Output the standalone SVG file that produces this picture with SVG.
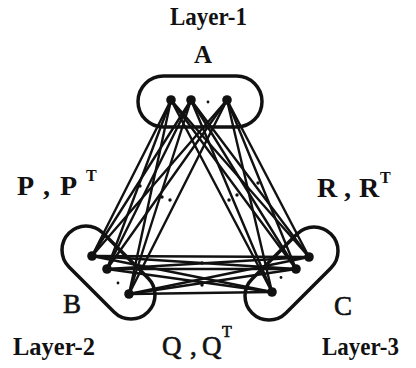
<svg xmlns="http://www.w3.org/2000/svg" width="416" height="368" viewBox="0 0 416 368">
<style>
.lbl{font-family:"Liberation Serif","Times New Roman",serif;font-weight:bold;fill:#111}
.nl{font-family:"Liberation Serif","Times New Roman",serif;fill:#111;stroke:#111;stroke-width:0.6}
.box{fill:none;stroke:#111;stroke-width:3.5}
.dot{fill:#111}
.sd{fill:#111}
#edges line{stroke:#111;stroke-width:2.4;stroke-linecap:round}
</style>
<rect width="416" height="368" fill="#fff"/>
<g id="edges">
<line x1="171" y1="100" x2="92" y2="256"/><line x1="171" y1="100" x2="107" y2="269"/><line x1="171" y1="100" x2="129" y2="294"/>
<line x1="191" y1="100" x2="92" y2="256"/><line x1="191" y1="100" x2="107" y2="269"/><line x1="191" y1="100" x2="129" y2="294"/>
<line x1="227" y1="100" x2="92" y2="256"/><line x1="227" y1="100" x2="107" y2="269"/><line x1="227" y1="100" x2="129" y2="294"/>
<line x1="171" y1="100" x2="309" y2="257"/><line x1="171" y1="100" x2="296" y2="269"/><line x1="171" y1="100" x2="272" y2="292"/>
<line x1="191" y1="100" x2="309" y2="257"/><line x1="191" y1="100" x2="296" y2="269"/><line x1="191" y1="100" x2="272" y2="292"/>
<line x1="227" y1="100" x2="309" y2="257"/><line x1="227" y1="100" x2="296" y2="269"/><line x1="227" y1="100" x2="272" y2="292"/>
<line x1="92" y1="256" x2="309" y2="257"/><line x1="92" y1="256" x2="296" y2="269"/><line x1="92" y1="256" x2="272" y2="292"/>
<line x1="107" y1="269" x2="309" y2="257"/><line x1="107" y1="269" x2="296" y2="269"/><line x1="107" y1="269" x2="272" y2="292"/>
<line x1="129" y1="294" x2="309" y2="257"/><line x1="129" y1="294" x2="296" y2="269"/><line x1="129" y1="294" x2="272" y2="292"/>
</g>
<g id="ellipses">
<circle class="sd" cx="140" cy="186" r="1.7"/><circle class="sd" cx="162" cy="197" r="1.7"/><circle class="sd" cx="170" cy="200" r="1.7"/>
<circle class="sd" cx="229" cy="200" r="1.7"/><circle class="sd" cx="237" cy="195" r="1.7"/><circle class="sd" cx="258" cy="183" r="1.7"/>
<circle class="sd" cx="202" cy="263" r="1.7"/><circle class="sd" cx="202" cy="285" r="1.7"/>
</g>
<g id="nodeA">
<rect class="box" x="138" y="76" width="124" height="51" rx="25.5"/>
<circle class="dot" cx="171" cy="100" r="4.8"/><circle class="dot" cx="191" cy="100" r="4.8"/><circle class="dot" cx="227" cy="100" r="4.8"/>
<circle class="sd" cx="208" cy="102" r="1.4"/>
<text class="lbl" x="203" y="63" font-size="25" text-anchor="middle">A</text>
<text class="lbl" x="170" y="25" font-size="25" textLength="77" lengthAdjust="spacingAndGlyphs">Layer-1</text>
</g>
<g id="nodeB">
<rect class="box" x="52.7" y="248.5" width="111.6" height="48" rx="24" transform="rotate(45 108.5 272.5)"/>
<circle class="dot" cx="92" cy="256" r="4.8"/><circle class="dot" cx="107" cy="269" r="4.8"/><circle class="dot" cx="129" cy="294" r="4.8"/>
<circle class="sd" cx="118" cy="283" r="1.4"/>
<text class="nl" x="63" y="313" font-size="27">B</text>
<text class="lbl" x="13" y="355" font-size="25" textLength="82" lengthAdjust="spacingAndGlyphs">Layer-2</text>
</g>
<g id="nodeC">
<rect class="box" x="235.7" y="249.5" width="111.6" height="48" rx="24" transform="rotate(-45 291.5 273.5)"/>
<circle class="dot" cx="309" cy="257" r="4.8"/><circle class="dot" cx="296" cy="269" r="4.8"/><circle class="dot" cx="272" cy="292" r="4.8"/>
<circle class="sd" cx="281" cy="277.5" r="1.4"/>
<text class="nl" x="334" y="315" font-size="27">C</text>
<text class="lbl" x="322" y="355" font-size="25" textLength="77" lengthAdjust="spacingAndGlyphs">Layer-3</text>
</g>
<g id="labels">
<text class="lbl" y="195" font-size="28"><tspan x="17">P</tspan><tspan x="43">,</tspan><tspan x="60">P</tspan><tspan x="86" y="181" font-size="16">T</tspan></text>
<text class="lbl" y="197" font-size="28"><tspan x="317">R</tspan><tspan x="344">,</tspan><tspan x="359">R</tspan><tspan x="380" y="183" font-size="16">T</tspan></text>
<text class="nl" y="355" font-size="27"><tspan x="162">Q</tspan><tspan x="190">,</tspan><tspan x="202">Q</tspan><tspan x="222" y="337" font-size="16">T</tspan></text>
</g>
</svg>
